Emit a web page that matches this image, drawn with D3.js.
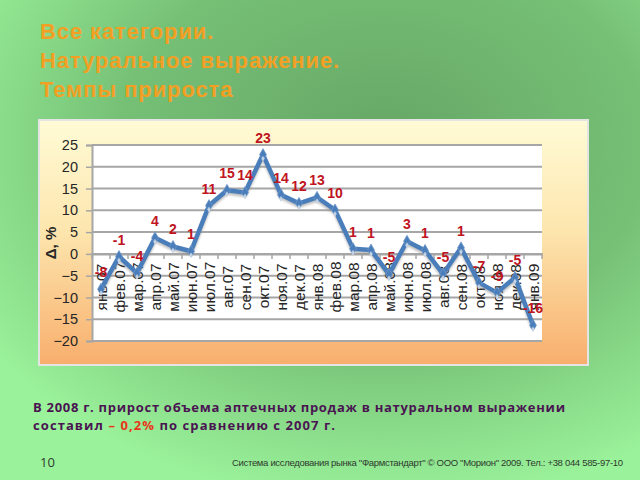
<!DOCTYPE html>
<html>
<head>
<meta charset="utf-8">
<script src="https://cdn.jsdelivr.net/npm/d3@7"></script>
<style>
html,body{margin:0;padding:0;background:#7fcf7f;}
svg{display:block;}
</style>
</head>
<body>
<svg id="c" width="640" height="480"></svg>
<script>
const categories = ["янв.07","фев.07","мар.07","апр.07","май.07","июн.07","июл.07","авг.07","сен.07","окт.07","ноя.07","дек.07","янв.08","фев.08","мар.08","апр.08","май.08","июн.08","июл.08","авг.08","сен.08","окт.08","ноя.08","дек.08","янв.09"];
const values = [-8.1,-0.6,-4.4,3.7,1.7,0.6,11.1,14.6,14.1,22.8,13.6,11.6,13.0,10.1,1.2,0.9,-4.7,2.9,0.8,-4.6,1.4,-6.6,-8.9,-5.4,-16.4];
const labels = [-8,-1,-4,4,2,1,11,15,14,23,14,12,13,10,1,1,-5,3,1,-5,1,-7,-9,-5,-16];
const yTicks = [-20,-15,-10,-5,0,5,10,15,20,25];
const titleLines = ["Все категории.","Натуральное выражение.","Темпы прироста"];

const svg = d3.select("#c");
const defs = svg.append("defs");

const bg = defs.append("radialGradient").attr("id","bg").attr("cx","0.6").attr("cy","0.3").attr("r","0.75");
bg.append("stop").attr("offset","0").attr("stop-color","#66a666");
bg.append("stop").attr("offset","0.55").attr("stop-color","#76c076");
bg.append("stop").attr("offset","1").attr("stop-color","#9af29a");

const cg = defs.append("linearGradient").attr("id","cg").attr("x1",0).attr("y1",0).attr("x2",0).attr("y2",1);
cg.append("stop").attr("offset","0").attr("stop-color","#fffbd6");
cg.append("stop").attr("offset","0.45").attr("stop-color","#fde6ae");
cg.append("stop").attr("offset","1").attr("stop-color","#f8ae6c");

const sh = defs.append("filter").attr("id","sh").attr("x","-10%").attr("y","-10%").attr("width","120%").attr("height","120%");
sh.append("feGaussianBlur").attr("stdDeviation",1.2);

svg.append("rect").attr("width",640).attr("height",480).attr("fill","url(#bg)");

// title
svg.append("g").selectAll("text").data(titleLines).join("text")
  .attr("x",40).attr("y",(d,i)=>39+i*29)
  .attr("font-family","Liberation Sans, Arial, sans-serif")
  .attr("font-weight","bold").attr("font-size",22).attr("letter-spacing",0.9)
  .attr("fill","#f2a024")
  .text(d=>d);

// chart area
svg.append("rect").attr("x",39).attr("y",120).attr("width",549).attr("height",245)
  .attr("fill","url(#cg)").attr("stroke","#e4e4e4").attr("stroke-width",2);

const x = d3.scaleBand().domain(categories).range([92,542]);
const y = d3.scaleLinear().domain([-20,25]).range([341,145]);

svg.append("rect").attr("x",92).attr("y",y(25)).attr("width",450).attr("height",y(-20)-y(25)).attr("fill","#ffffff");

// gridlines
svg.append("g").selectAll("line").data(yTicks).join("line")
  .attr("x1",92).attr("x2",542).attr("y1",d=>y(d)).attr("y2",d=>y(d))
  .attr("stroke","#a6a6a6").attr("stroke-width",2);

// y axis
const yAxis = svg.append("g").attr("transform","translate(92,0)")
  .call(d3.axisLeft(y).tickValues(yTicks).tickSize(6).tickPadding(8));
yAxis.select(".domain").attr("stroke","#a6a6a6").attr("stroke-width",2);
yAxis.selectAll(".tick line").attr("stroke","#a6a6a6").attr("stroke-width",1.5);
yAxis.selectAll(".tick text").attr("font-family","Liberation Sans, Arial, sans-serif").attr("font-size",14.5).attr("fill","#262626");

// x axis at zero
const xAxis = svg.append("g").attr("transform",`translate(0,${y(0)})`)
  .call(d3.axisBottom(x).tickSize(0).tickFormat(""));
xAxis.select(".domain").attr("stroke","#a6a6a6").attr("stroke-width",2);
svg.append("g").selectAll("line").data(d3.range(categories.length+1)).join("line")
  .attr("x1",i=>92+i*x.step()).attr("x2",i=>92+i*x.step())
  .attr("y1",y(0)-1).attr("y2",y(0)+5)
  .attr("stroke","#a6a6a6").attr("stroke-width",1.5);

// category labels
svg.append("g").selectAll("text").data(categories).join("text")
  .attr("transform",d=>`translate(${x(d)+x.bandwidth()/2+5.5},287) rotate(-90)`)
  .attr("text-anchor","middle")
  .attr("font-family","Liberation Sans, Arial, sans-serif").attr("font-size",15.5)
  .attr("fill","#262626")
  .text(d=>d);

// axis title
svg.append("text").attr("transform","translate(56,243) rotate(-90)")
  .attr("text-anchor","middle")
  .attr("font-family","Liberation Sans, Arial, sans-serif").attr("font-weight","bold").attr("font-size",15)
  .attr("fill","#262626").text("Δ, %");

// line
const line = d3.line().x((d,i)=>x(categories[i])+x.bandwidth()/2).y(d=>y(d));
svg.append("path").datum(values).attr("d",line).attr("transform","translate(0,2.5)")
  .attr("fill","none").attr("stroke","#8a8a8a").attr("stroke-opacity",0.55).attr("stroke-width",4).attr("filter","url(#sh)");
svg.append("path").datum(values).attr("d",line)
  .attr("fill","none").attr("stroke","#4a7ebb").attr("stroke-width",4.5).attr("stroke-linejoin","round");

// markers
const diamond = d3.symbol().type(d3.symbolDiamond).size(40);
svg.append("g").selectAll("path").data(values).join("path")
  .attr("transform",(d,i)=>`translate(${x(categories[i])+x.bandwidth()/2},${y(d)})`)
  .attr("d",diamond).attr("fill","#4a7ebb").attr("stroke","#6f97c8").attr("stroke-width",0.8);
svg.append("g").selectAll("path").data(values).join("path")
  .attr("transform",(d,i)=>`translate(${x(categories[i])+x.bandwidth()/2},${y(d)+4})`)
  .attr("d",d3.symbol().type(d3.symbolDiamond).size(10)).attr("fill","#dfe6ee").attr("opacity",0.8);

// data labels
svg.append("g").selectAll("text").data(values).join("text")
  .attr("x",(d,i)=>x(categories[i])+x.bandwidth()/2)
  .attr("y",d=>y(d)-12)
  .attr("text-anchor","middle")
  .attr("font-family","Liberation Sans, Arial, sans-serif").attr("font-weight","bold").attr("font-size",14)
  .attr("fill","#c0141e")
  .text((d,i)=>labels[i]);

// bottom text
const bt = svg.append("g").attr("font-family","Open Sans, Noto Sans, sans-serif").attr("font-weight","bold").attr("font-size",13).attr("fill","#4a1452");
bt.append("text").attr("x",33).attr("y",412).attr("textLength",532)
  .text("В 2008 г. прирост объема аптечных продаж в натуральном выражении");
const t2 = bt.append("text").attr("x",33).attr("y",430).attr("textLength",302);
t2.append("tspan").text("составил ");
t2.append("tspan").attr("fill","#e8361a").text("– 0,2%");
t2.append("tspan").text(" по сравнению с 2007 г.");

// footer
svg.append("text").attr("x",40).attr("y",467).attr("font-family","Open Sans, Noto Sans, sans-serif").attr("font-size",13).attr("fill","#2e3a2e").text("10");
svg.append("text").attr("x",232).attr("y",466).attr("textLength",391)
  .attr("font-family","Liberation Sans Narrow, Liberation Sans, Arial, sans-serif").attr("font-size",9.5).attr("fill","#2e3a2e")
  .text("Система исследования рынка \"Фармстандарт\" © ООО \"Морион\" 2009. Тел.: +38 044 585-97-10");
</script>
</body>
</html>
